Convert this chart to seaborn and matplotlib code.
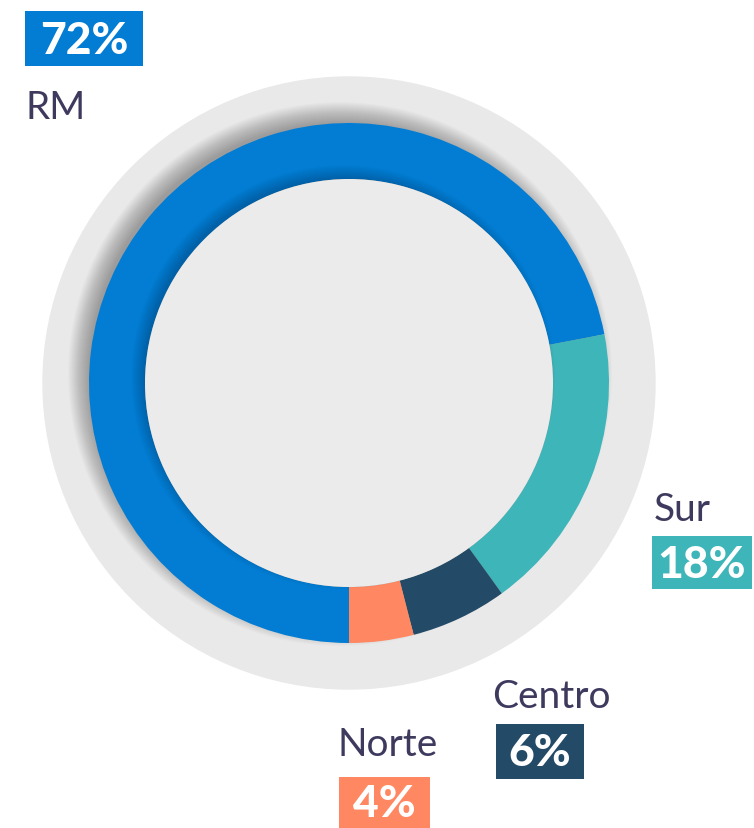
import matplotlib
matplotlib.use("Agg")
import matplotlib.pyplot as plt
from matplotlib.patches import Circle, Rectangle
import seaborn as sns

# Regional distribution
regions = ["RM", "Sur", "Centro", "Norte"]
shares = [72, 18, 6, 4]
colors = ["#037dd3", "#3db5b9", "#234a66", "#ff8862"]

sns.set_theme(style="white")
plt.rcParams["font.family"] = ["Lato", "DejaVu Sans"]

W, H = 754, 829
fig = plt.figure(figsize=(W / 100, H / 100), dpi=100)
ax = fig.add_axes([0, 0, 1, 1])

cx, cy = 349, H - 384
r_back, r_out, r_in = 306, 260, 204

# light backdrop disc
ax.add_patch(Circle((cx, cy), r_back, color="#e9e9e9", zorder=1))

# soft shadow thrown up-left by the ring
for i in range(22):
    ax.add_patch(Circle((cx - 9, cy + 9), r_out + 12 - i, color="black",
                        alpha=0.016, lw=0, zorder=2))

# the ring itself
wedges, _ = ax.pie(shares, colors=colors, radius=r_out, center=(cx, cy),
                   startangle=-90, counterclock=False,
                   wedgeprops=dict(width=r_out - r_in, linewidth=0))
for w in wedges:
    w.set_zorder(3)

# faint inner shadow on the ring
for i in range(14):
    ax.add_patch(Circle((cx - 6, cy + 6), r_in + 8 - i, color="black",
                        alpha=0.012, lw=0, zorder=4))
ax.add_patch(Circle((cx, cy), r_in, color="#ebebeb", lw=0, zorder=5))

text_color = "#3d3a5e"

# (label x, label y, box x0, box y0, box x1, box y1) in pixel layout
layout = {
    "RM": (25, 108, 25, 12, 143, 67),
    "Sur": (654, 510, 652, 537, 752, 590),
    "Centro": (492, 697, 496, 725, 584, 780),
    "Norte": (338, 745, 339, 778, 430, 829),
}

for name, val, col in zip(regions, shares, colors):
    lx, ly, x0, y0, x1, y1 = layout[name]
    ax.text(lx, H - ly, name, fontsize=28, color=text_color,
            ha="left", va="center", zorder=6)
    ax.add_patch(Rectangle((x0, H - y1), x1 - x0, y1 - y0, color=col,
                           lw=0, zorder=6))
    ax.text((x0 + x1) / 2, H - (y0 + y1) / 2 - 1, f"{val}%", fontsize=32,
            fontweight="black", color="white", ha="center", va="center",
            zorder=7)

ax.set_xlim(0, W)
ax.set_ylim(0, H)
ax.set_aspect("equal")
ax.axis("off")

fig.savefig("out.png", dpi=100)
